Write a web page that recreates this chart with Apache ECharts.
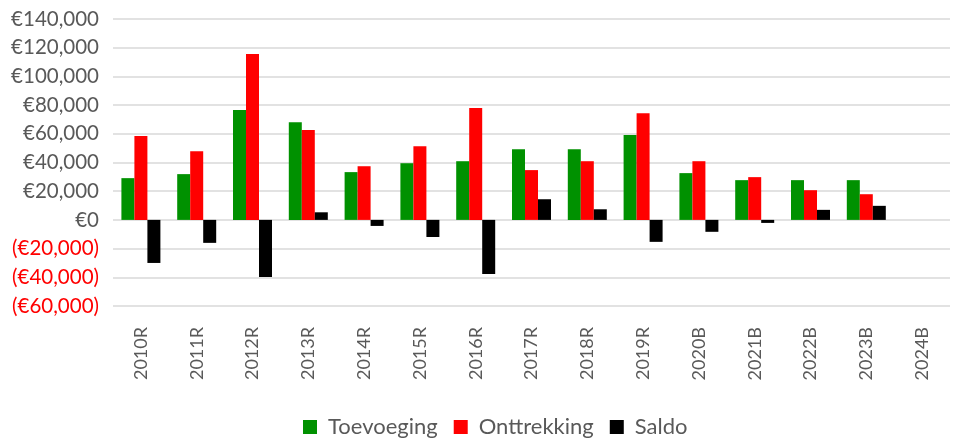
<!DOCTYPE html>
<html>
<head>
<meta charset="utf-8">
<script src="https://cdn.jsdelivr.net/npm/echarts@6/dist/echarts.min.js"></script>
<style>
html,body{margin:0;padding:0;background:#fff;}
#chart{width:957px;height:444px;}
</style>
</head>
<body>
<div id="chart"></div>
<script>
const categories = ['2010R','2011R','2012R','2013R','2014R','2015R','2016R','2017R','2018R','2019R','2020B','2021B','2022B','2023B','2024B'];
const toevoeging = [29100, 31900, 76500, 68100, 33300, 39500, 40900, 49300, 49300, 59100, 32600, 27700, 27700, 27700, null];
const onttrekking = [58400, 47900, 115600, 62600, 37400, 51400, 77900, 34700, 40900, 74400, 40900, 29800, 20700, 17900, null];
const saldo = [-30000, -16000, -39800, 5300, -4200, -11900, -37700, 14400, 7400, -15300, -8300, -2100, 7000, 9800, null];
const seriesNames = ['Toevoeging', 'Onttrekking', 'Saldo'];
const colors = ['#009100', '#FF0000', '#000000'];

const chart = echarts.init(document.getElementById('chart'), null, {renderer: 'canvas'});
const font = 'Lato, "Open Sans", sans-serif';
function fmt(v) {
  const s = '€' + Math.abs(v).toLocaleString('en-US');
  return v < 0 ? '(' + s + ')' : s;
}
chart.setOption({
  animation: false,
  backgroundColor: '#ffffff',
  color: colors,
  grid: {left: 113, right: 7, top: 19, bottom: 138, containLabel: false},
  legend: {
    bottom: 1,
    left: 298,
    itemWidth: 14,
    itemHeight: 14,
    itemGap: 16,
    icon: 'rect',
    textStyle: {fontFamily: font, fontSize: 22, color: '#595959', padding: [0, 0, 0, 6]},
    data: seriesNames
  },
  xAxis: {
    type: 'category',
    data: categories,
    position: 'bottom',
    axisLine: {show: false, onZero: false},
    axisTick: {show: false},
    axisLabel: {rotate: 90, margin: 21, fontFamily: font, fontSize: 18, color: '#595959', interval: 0}
  },
  yAxis: {
    type: 'value',
    min: -60000,
    max: 140000,
    interval: 20000,
    axisLine: {show: false},
    axisTick: {show: false},
    splitLine: {lineStyle: {color: '#D9D9D9', width: 1.5}},
    axisLabel: {
      margin: 14,
      fontFamily: font,
      fontSize: 20.5,
      formatter: fmt,
      color: function (v) { return Number(v) < 0 ? '#FF0000' : '#595959'; }
    }
  },
  series: [
    {name: seriesNames[0], type: 'bar', data: toevoeging, barWidth: 13, barGap: '0%'},
    {name: seriesNames[1], type: 'bar', data: onttrekking, barWidth: 13, barGap: '0%'},
    {name: seriesNames[2], type: 'bar', data: saldo, barWidth: 13, barGap: '0%'}
  ]
});
</script>
</body>
</html>
